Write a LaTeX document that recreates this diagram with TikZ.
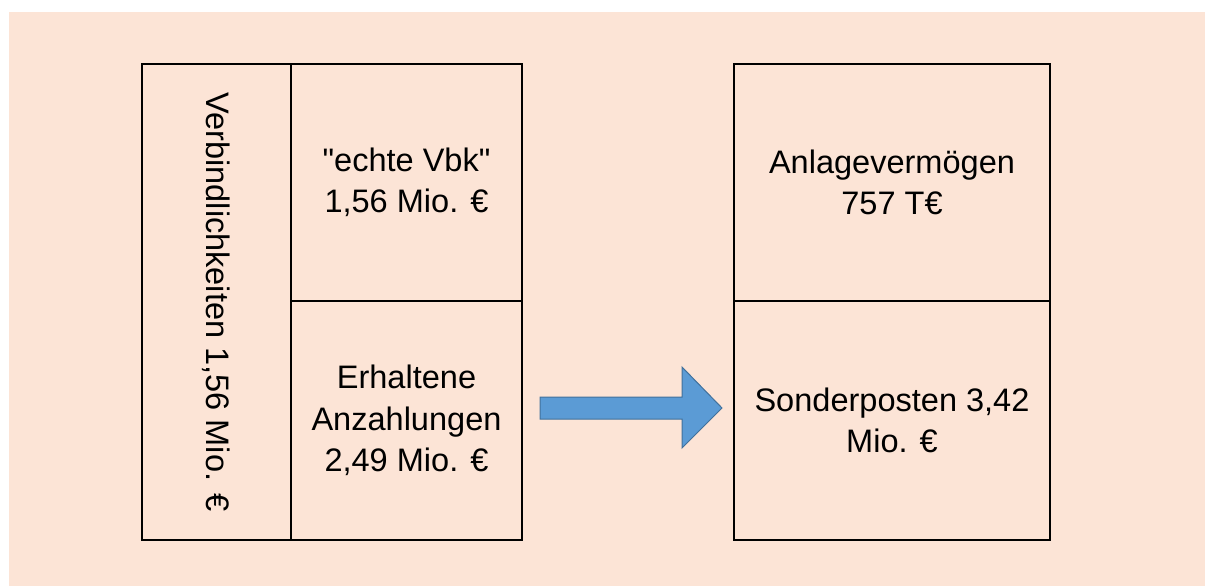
\documentclass[tikz,border=0pt]{standalone}
\usepackage{fontspec}
\setmainfont{Liberation Sans}[Ligatures=TeXOff]
\usepackage{tikz}
\usetikzlibrary{positioning}

\definecolor{bgColor}{RGB}{252,228,214}
\definecolor{pfeilFill}{RGB}{91,155,213}
\definecolor{pfeilLine}{RGB}{65,113,156}

\tikzset{
  feld/.style={draw=black, line width=1.8pt, rectangle, inner sep=0pt, align=center,
    font=\fontsize{24.4}{31}\selectfont},
}

\begin{document}
\begin{tikzpicture}[x=0.75pt,y=-0.75pt]
\useasboundingbox (0,0) rectangle (1205,586);
\fill[bgColor] (9,12) rectangle (1205,586);
% linke Seite
\node[feld, rotate=-90, minimum width=357pt, minimum height=111.75pt] (vbk) at (216.5,302) {Verbindlichkeiten 1,56 Mio. €};
\node[feld, minimum width=173.25pt, minimum height=177.75pt] (echt) at (406.5,182.5) {"echte Vbk"\\1,56 Mio. €};
\node[feld, minimum width=173.25pt, minimum height=179.25pt] (anz) at (406.5,420.5) {Erhaltene\\Anzahlungen\\2,49 Mio. €};
% rechte Seite
\node[feld, minimum width=237pt, minimum height=177.75pt] (av) at (892,182.5) {Anlagevermögen\\757 T€};
\node[feld, minimum width=237pt, minimum height=179.25pt] (sp) at (892,420.5) {Sonderposten 3,42\\Mio. €};
% Pfeil
\draw[fill=pfeilFill, draw=pfeilLine, line width=0.75pt, line join=miter]
  (540,397) -- (682,397) -- (682,367) -- (722,408) -- (682,448) -- (682,419) -- (540,419) -- cycle;
\end{tikzpicture}
\end{document}
